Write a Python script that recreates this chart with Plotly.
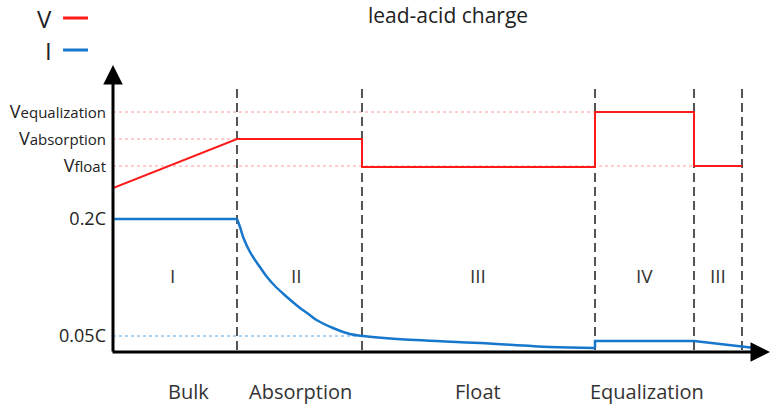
import plotly.graph_objects as go

# ---- data (time in arbitrary units, levels in arbitrary units) ----
boundaries = [0.0, 2.48, 4.98, 9.64, 11.62, 12.58]
phase_roman = ["I", "II", "III", "IV", "III"]
phase_roman_x = [1.18, 3.66, 7.3, 10.62, 12.1]
stage_names = ["Bulk", "Absorption", "Float", "Equalization"]
stage_x = [1.5, 3.74, 7.3, 10.68]

V_t = [0.0, 2.48, 4.98, 4.98, 9.64, 9.64, 11.62, 11.62, 12.58]
V_v = [1.64, 2.13, 2.13, 1.85, 1.85, 2.40, 2.40, 1.86, 1.86]

I_t = [0.0, 2.48, 2.54, 2.61, 2.74, 2.91, 3.08, 3.24, 3.41, 3.57, 3.74, 3.91, 4.07,
       4.40, 4.74, 5.0, 5.68, 7.34, 8.74, 9.64, 9.64, 11.62, 12.58, 12.84]
I_v = [1.33, 1.33, 1.25, 1.14, 1.00, 0.87, 0.75, 0.66, 0.58, 0.51, 0.44, 0.38, 0.32,
       0.24, 0.18, 0.16, 0.13, 0.09, 0.05, 0.04, 0.11, 0.11, 0.06, 0.04]

tick_vals = [2.40, 2.13, 1.86, 1.33, 0.16]
tick_text = ["V<span style='font-size:15px'>equalization</span>",
             "V<span style='font-size:15px'>absorption</span>",
             "V<span style='font-size:15px'>float</span>",
             "0.2C", "0.05C"]

RED = "#ff1a1a"
BLUE = "#1777cc"
FONT = "Open Sans"
PH = 352.0  # plot area height in px

fig = go.Figure()
fig.add_trace(go.Scatter(x=V_t, y=V_v, mode="lines", line=dict(color=RED, width=2),
                         showlegend=False, hoverinfo="skip"))
# current: bulk (flat), decay (smooth), equalization (step)
segs = [(0, 2, "linear"), (1, 20, "spline"), (19, len(I_t), "linear")]
for a, b, shp in segs:
    fig.add_trace(go.Scatter(x=I_t[a:b], y=I_v[a:b], mode="lines",
                             line=dict(color=BLUE, width=2.5, shape=shp, smoothing=1.0),
                             showlegend=False, hoverinfo="skip"))

shapes = []
# reference dotted lines
shapes.append(dict(type="line", xref="x", yref="y", x0=0, x1=boundaries[3], y0=tick_vals[0], y1=tick_vals[0],
                   line=dict(color="#ff9a9a", width=1, dash="dot"), layer="below"))
shapes.append(dict(type="line", xref="x", yref="y", x0=0, x1=boundaries[1], y0=tick_vals[1], y1=tick_vals[1],
                   line=dict(color="#ff9a9a", width=1, dash="dot"), layer="below"))
shapes.append(dict(type="line", xref="x", yref="y", x0=0, x1=boundaries[5], y0=tick_vals[2], y1=tick_vals[2],
                   line=dict(color="#ff9a9a", width=1, dash="dot"), layer="below"))
shapes.append(dict(type="line", xref="x", yref="y", x0=0, x1=boundaries[2], y0=tick_vals[4], y1=tick_vals[4],
                   line=dict(color="#5aa8e8", width=1, dash="dot"), layer="below"))
# dashed phase boundaries
for b in boundaries[1:]:
    shapes.append(dict(type="line", xref="x", yref="y", x0=b, x1=b, y0=0.02, y1=2.67,
                       line=dict(color="#555555", width=2, dash="9px,5px"), layer="below"))
# legend lines
shapes.append(dict(type="line", xref="paper", yref="paper", x0=-0.076, x1=-0.038, y0=1 - 18/PH, y1=1 - 18/PH,
                   line=dict(color=RED, width=3)))
shapes.append(dict(type="line", xref="paper", yref="paper", x0=-0.076, x1=-0.038, y0=1 - 50/PH, y1=1 - 50/PH,
                   line=dict(color=BLUE, width=3)))

ann = []
# axes with arrows
ann.append(dict(x=0, y=2.87, ax=0, ay=-0.01, xref="x", yref="y", axref="x", ayref="y", text="",
                showarrow=True, arrowhead=2, arrowsize=1.3, arrowwidth=3, arrowcolor="black"))
ann.append(dict(x=13.14, y=0, ax=-0.04, ay=0, xref="x", yref="y", axref="x", ayref="y", text="",
                showarrow=True, arrowhead=2, arrowsize=1.3, arrowwidth=3, arrowcolor="black"))
for r, x in zip(phase_roman, phase_roman_x):
    ann.append(dict(x=x, y=0.76, xref="x", yref="y", text=r, showarrow=False,
                    font=dict(family=FONT, size=19, color="#333333")))
for s, x in zip(stage_names, stage_x):
    ann.append(dict(x=x / 13.14, y=-39 / PH, xref="paper", yref="paper", text=s, showarrow=False,
                    xanchor="center", yanchor="middle", font=dict(family=FONT, size=20, color="#333333")))
# legend text
ann.append(dict(x=-0.09, y=1 - 18/PH, xref="paper", yref="paper", text="V", showarrow=False,
                xanchor="right", yanchor="middle", font=dict(family=FONT, size=24, color="#222222")))
ann.append(dict(x=-0.09, y=1 - 50/PH, xref="paper", yref="paper", text="I", showarrow=False,
                xanchor="right", yanchor="middle", font=dict(family=FONT, size=24, color="#222222")))
# title
ann.append(dict(x=(448 - 113) / 657, y=1 - 15/PH, xref="paper", yref="paper", text="lead-acid charge",
                showarrow=False, xanchor="center", yanchor="middle", font=dict(family=FONT, size=21, color="#222222")))

fig.update_layout(
    width=771, height=406,
    margin=dict(l=113, r=1, t=0, b=54),
    plot_bgcolor="white", paper_bgcolor="white",
    xaxis=dict(range=[0, 13.14], showgrid=False, zeroline=False, showticklabels=False, ticks="",
               showline=False, fixedrange=True),
    yaxis=dict(range=[0, 3.52], showgrid=False, zeroline=False, tickvals=tick_vals, ticktext=tick_text,
               ticks="", ticklabelstandoff=6, showline=False,
               tickfont=dict(family=FONT, size=18, color="#222222"), fixedrange=True),
    shapes=shapes, annotations=ann,
)

fig.write_html("out.html", config={"displayModeBar": False},
               post_script="document.body.style.margin='0';document.body.style.padding='0';")
